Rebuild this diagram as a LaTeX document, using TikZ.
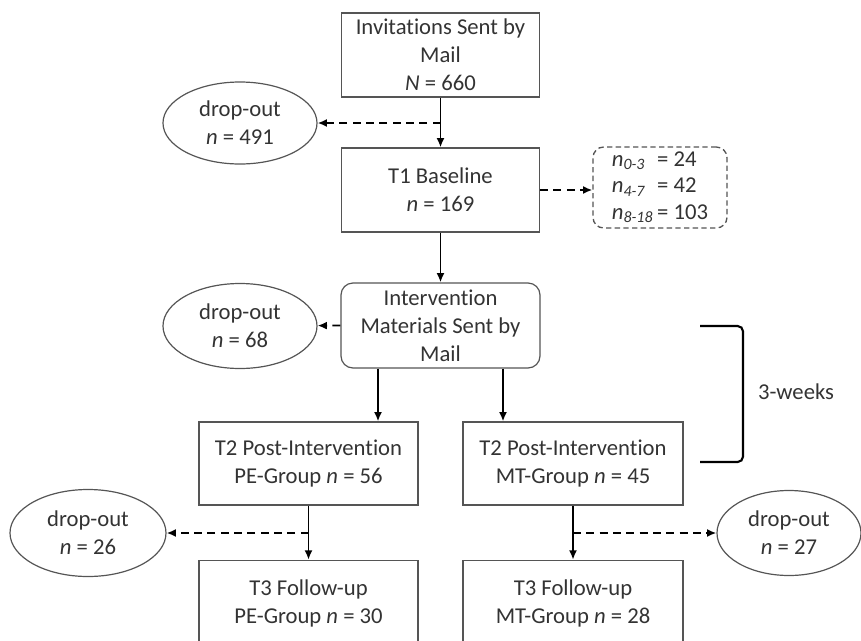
\documentclass[tikz,border=0pt]{standalone}
\usepackage{fontspec}
\setmainfont{Carlito}[RawFeature={-liga;-clig;-dlig;-calt}]
\usetikzlibrary{shapes.geometric,arrows.meta}
\definecolor{txt}{HTML}{333333}
\definecolor{edge}{HTML}{555555}
\begin{document}
\begin{tikzpicture}[x=0.75pt,y=-0.75pt,
  every node/.style={font=\fontsize{17}{21}\selectfont, text=txt},
  box/.style={draw=edge, line width=0.9pt, rectangle, align=center, inner sep=0pt},
  rbox/.style={box, rounded corners=9pt},
  drop/.style={draw=edge, line width=0.9pt, ellipse, align=center, inner sep=0pt},
  arr/.style={line width=1.4pt, -{Latex[length=7pt,width=6pt]}},
  dsharr/.style={line width=1.4pt, dash pattern=on 6pt off 4pt, -{Latex[length=7pt,width=6pt]}},
  bracketline/.style={line width=1.6pt, rounded corners=4pt}
]
\clip (0,0) rectangle (861,640);

% boxes
\node[box, minimum width=148.5pt, minimum height=63pt] (inv) at (440.5,55) {Invitations Sent by\\Mail\\\textit{N} = 660};
\node[box, minimum width=148.5pt, minimum height=63pt] (t1) at (440.5,190) {T1 Baseline\\\textit{n} = 169};
\node[draw=edge, line width=1pt, dash pattern=on 4pt off 2.5pt, rounded corners=8pt,
      minimum width=100.5pt, minimum height=60.75pt, inner sep=0pt] (grp) at (660,187.5)
  {\renewcommand\arraystretch{0.95}\begin{tabular}{@{}l@{\hspace{3pt}}l@{}}
   \textit{n}\textsubscript{\textit{0-3}} & = 24\\
   \textit{n}\textsubscript{\textit{4-7}} & = 42\\
   \textit{n}\textsubscript{\textit{8-18}} & = 103
   \end{tabular}};
\node[rbox, minimum width=149.25pt, minimum height=63.75pt] (int) at (440.5,325.5) {Intervention\\Materials Sent by\\Mail};
\node[box, minimum width=164.25pt, minimum height=62.25pt] (pe) at (308.5,463.5) {T2 Post-Intervention\\PE-Group \textit{n} = 56};
\node[box, minimum width=165pt, minimum height=62.25pt] (mt) at (573,463.5) {T2 Post-Intervention\\MT-Group \textit{n} = 45};
\node[box, minimum width=164.25pt, minimum height=64pt] (t3pe) at (308.5,603) {T3 Follow-up\\PE-Group \textit{n} = 30};
\node[box, minimum width=165pt, minimum height=64pt] (t3mt) at (573,603) {T3 Follow-up\\MT-Group \textit{n} = 28};

% drop-out ellipses
\node[drop, minimum width=115.5pt, minimum height=61.5pt] (d1) at (240,123) {drop-out\\\textit{n} = 491};
\node[drop, minimum width=115.5pt, minimum height=63.75pt] (d2) at (240,326) {drop-out\\\textit{n} = 68};
\node[drop, minimum width=117pt, minimum height=65.25pt] (d3) at (88,533) {drop-out\\\textit{n} = 26};
\node[drop, minimum width=108pt, minimum height=63.75pt] (d4) at (789,533) {drop-out\\\textit{n} = 27};

% bracket and label
\coordinate (b1) at (700,326);
\coordinate (b2) at (743,326);
\coordinate (b3) at (743,462);
\coordinate (b4) at (700,462);
\draw[bracketline] (b1) -- (b2) -- (b3) -- (b4);
\node (wk) at (796,392) {3-weeks};

% connectors
\coordinate (s1) at (378,0);
\coordinate (s2) at (503,0);
\draw[arr] (inv) -- (t1);
\draw[dsharr] (d1.east -| inv.south) -- (d1);
\draw[dsharr] (t1.east) -- (t1.east -| grp.west);
\draw[arr] (t1) -- (int);
\draw[dsharr] (int.west) -- (d2);
\draw[arr] (int.south -| s1) -- (pe.north -| s1);
\draw[arr] (int.south -| s2) -- (mt.north -| s2);
\draw[arr] (pe) -- (t3pe);
\draw[dsharr] (d3.east -| pe.south) -- (d3);
\draw[arr] (mt) -- (t3mt);
\draw[dsharr] (d4.west -| mt.south) -- (d4);
\end{tikzpicture}
\end{document}
